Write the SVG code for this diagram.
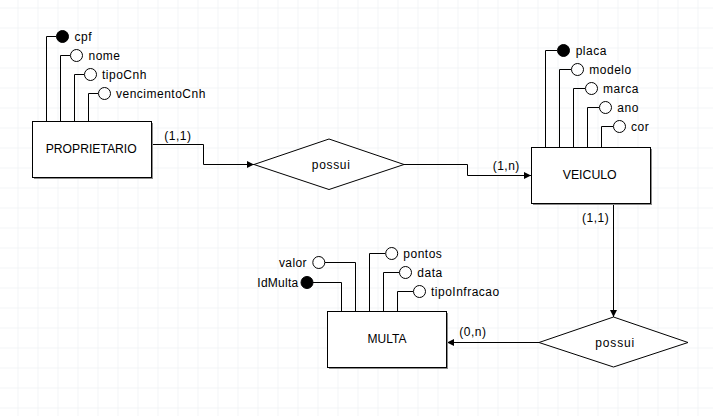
<svg xmlns="http://www.w3.org/2000/svg" width="713" height="416" viewBox="0 0 713 416">
<defs>
<pattern id="grid" x="17.5" y="7.5" width="20" height="20" patternUnits="userSpaceOnUse">
<path d="M0,0 H20 M0,0 V20" fill="none" stroke="#e8ebef" stroke-width="1"/>
</pattern>
<marker id="arr" markerWidth="8" markerHeight="8" refX="7" refY="4" orient="auto" markerUnits="userSpaceOnUse">
<path d="M0,0.5 L7,4 L0,7.5 Z" fill="#000"/>
</marker>
<style>
text{font-family:"Liberation Sans",Arial,sans-serif;font-size:12px;fill:#000}
.att{letter-spacing:0.5px}
.ent{fill:#fff;stroke:#000;stroke-width:1}
.shadow{fill:#8c8c8c}
.ln{fill:none;stroke:#000;stroke-width:1}
.o{fill:#fff;stroke:#000;stroke-width:1}
.f{fill:#000;stroke:#000;stroke-width:1}
.rel{fill:#fff;stroke:#000;stroke-width:1}
.con{fill:none;stroke:#000;stroke-width:1;marker-end:url(#arr)}
</style>
</defs>
<rect width="713" height="416" fill="#fff"/>
<rect x="-3" y="-13" width="720" height="440" fill="url(#grid)"/>

<g id="connectors">
<path class="con" d="M151.5,144.5 H203.5 V164.5 H254"/>
<path class="con" d="M404,164.5 H467.5 V175.5 H531"/>
<path class="con" d="M613.5,203.5 V317"/>
<path class="con" d="M539,342.5 H447"/>
<text x="164.3" y="139.5" class="att">(1,1)</text>
<text x="492.7" y="170" class="att">(1,n)</text>
<text x="582" y="221.5" class="att">(1,1)</text>
<text x="459.3" y="336" class="att">(0,n)</text>
</g>

<g id="proprietario">
<rect class="shadow" x="34" y="123" width="119" height="56"/>
<rect class="ent" x="32.5" y="121.5" width="119" height="56"/>
<text x="91.2" y="153.3" text-anchor="middle" textLength="91" lengthAdjust="spacingAndGlyphs">PROPRIETARIO</text>
</g>
<g id="proprietario-attrs">
<path class="ln" d="M46.5,121.5 V36.5 H56"/>
<circle class="f" cx="62.5" cy="36.5" r="6"/>
<text x="74.5" y="40.5" class="att">cpf</text>
<path class="ln" d="M60.5,121.5 V55.5 H70"/>
<circle class="o" cx="76.5" cy="55.5" r="6"/>
<text x="88.5" y="59.5" class="att">nome</text>
<path class="ln" d="M74.5,121.5 V74.5 H84"/>
<circle class="o" cx="90.5" cy="74.5" r="6"/>
<text x="102" y="78.5" class="att">tipoCnh</text>
<path class="ln" d="M88.5,121.5 V93.5 H98"/>
<circle class="o" cx="104.5" cy="93.5" r="6"/>
<text x="116" y="97.5" class="att">vencimentoCnh</text>
</g>

<g id="possui1">
<polygon class="rel" points="254,164.5 329,139 404,164.5 329,189.5"/>
<text x="330.8" y="168.5" text-anchor="middle" textLength="38" lengthAdjust="spacing">possui</text>
</g>

<g id="veiculo">
<rect class="shadow" x="533" y="149" width="119" height="56"/>
<rect class="ent" x="531.5" y="147.5" width="119" height="56"/>
<text x="589.7" y="179.3" text-anchor="middle" textLength="54" lengthAdjust="spacingAndGlyphs">VEICULO</text>
</g>
<g id="veiculo-attrs">
<path class="ln" d="M545.5,147.5 V50.5 H557"/>
<circle class="f" cx="563.5" cy="50.5" r="6"/>
<text x="575.7" y="54.5" class="att">placa</text>
<path class="ln" d="M559.5,147.5 V69.5 H571"/>
<circle class="o" cx="577.5" cy="69.5" r="6"/>
<text x="589.3" y="73.5" class="att">modelo</text>
<path class="ln" d="M573.5,147.5 V88.5 H585"/>
<circle class="o" cx="591.5" cy="88.5" r="6"/>
<text x="603" y="92.5" class="att">marca</text>
<path class="ln" d="M587.5,147.5 V107.5 H599"/>
<circle class="o" cx="605.5" cy="107.5" r="6"/>
<text x="617.3" y="111.5" class="att">ano</text>
<path class="ln" d="M601.5,147.5 V126.5 H613"/>
<circle class="o" cx="619.5" cy="126.5" r="6"/>
<text x="631" y="130.5" class="att">cor</text>
</g>

<g id="possui2">
<polygon class="rel" points="539,342.5 613.5,317 688,342.5 613.5,367"/>
<text x="614.7" y="346.5" text-anchor="middle" textLength="39" lengthAdjust="spacing">possui</text>
</g>

<g id="multa">
<rect class="shadow" x="329" y="313" width="119" height="56"/>
<rect class="ent" x="327.5" y="311.5" width="119" height="56"/>
<text x="387" y="343.3" text-anchor="middle">MULTA</text>
</g>
<g id="multa-attrs">
<path class="ln" d="M341.5,311.5 V282.5 H313"/>
<circle class="f" cx="307" cy="282.5" r="6"/>
<text x="257.3" y="286.5" textLength="41" lengthAdjust="spacing">IdMulta</text>
<path class="ln" d="M355.5,311.5 V262.5 H325"/>
<circle class="o" cx="318.8" cy="262.5" r="6"/>
<text x="279" y="266.5" textLength="27.5" lengthAdjust="spacing">valor</text>
<path class="ln" d="M369.5,311.5 V253.5 H385.5"/>
<circle class="o" cx="391.7" cy="253.5" r="6"/>
<text x="403.3" y="257.5" class="att">pontos</text>
<path class="ln" d="M383.5,311.5 V272.5 H399.3"/>
<circle class="o" cx="405.5" cy="272.5" r="6"/>
<text x="417.3" y="276.5" class="att">data</text>
<path class="ln" d="M397.5,311.5 V291.5 H413.3"/>
<circle class="o" cx="419.5" cy="291.5" r="6"/>
<text x="431" y="295.5" class="att">tipoInfracao</text>
</g>
</svg>
